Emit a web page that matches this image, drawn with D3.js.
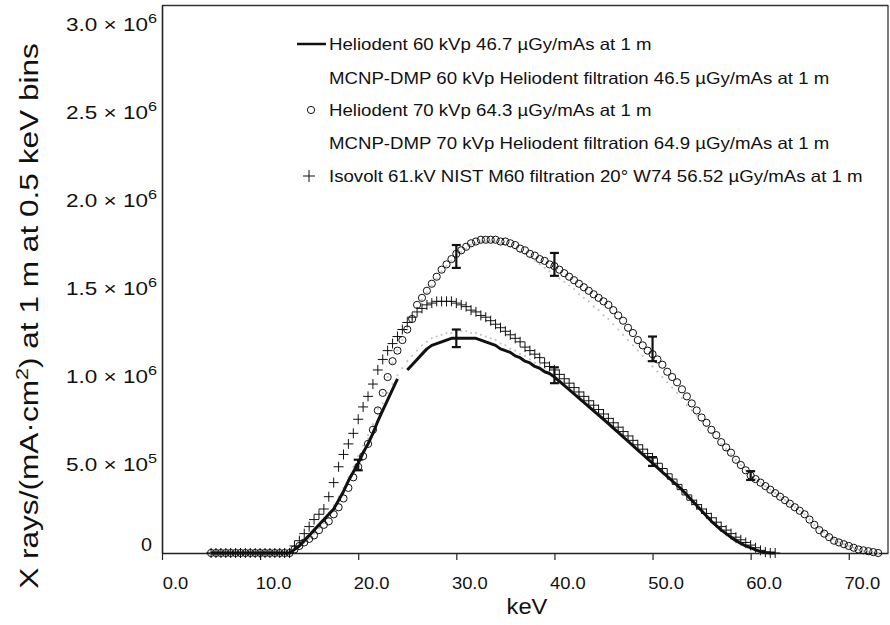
<!DOCTYPE html>
<html><head><meta charset="utf-8">
<script src="https://cdn.jsdelivr.net/npm/d3@7"></script>
<style>
body{margin:0;background:#fff;}
svg{display:block;font-family:"Liberation Sans",Arial,sans-serif;}
</style></head><body>
<svg id="chart" width="890" height="625"></svg>
<script>
// Energy bins (keV), 0.5 keV steps
const energy = [
 5,5.5,6,6.5,7,7.5,8,8.5,9,9.5,
 10,10.5,11,11.5,12,12.5,13,13.5,14,14.5,
 15,15.5,16,16.5,17,17.5,18,18.5,19,19.5,
 20,20.5,21,21.5,22,22.5,23,23.5,24,24.5,
 25,25.5,26,26.5,27,27.5,28,28.5,29,29.5,
 30,30.5,31,31.5,32,32.5,33,33.5,34,34.5,
 35,35.5,36,36.5,37,37.5,38,38.5,39,39.5,
 40,40.5,41,41.5,42,42.5,43,43.5,44,44.5,
 45,45.5,46,46.5,47,47.5,48,48.5,49,49.5,
 50,50.5,51,51.5,52,52.5,53,53.5,54,54.5,
 55,55.5,56,56.5,57,57.5,58,58.5,59,59.5,
 60,60.5,61,61.5,62,62.5,63,63.5,64,64.5,
 65,65.5,66,66.5,67,67.5,68,68.5,69,69.5,
 70,70.5,71,71.5,72,72.5,73];

// Values in units of 10^6 X rays/(mA·cm²)
const heliodent60 = [
 0,0,0,0,0,0,0,0,0,0,
 0,0,0,0,0,0,0,0.02,0.04,0.07,
 0.10,0.13,0.16,0.19,0.22,0.25,0.30,0.35,0.41,0.46,
 0.51,0.57,0.62,0.68,0.75,0.81,0.87,0.93,0.99,null,
 1.04,1.07,1.10,1.13,1.16,1.18,1.19,1.20,1.21,1.22,
 1.22,1.22,1.22,1.22,1.22,1.21,1.20,1.19,1.18,1.16,
 1.15,1.14,1.12,1.11,1.09,1.08,1.06,1.05,1.03,1.02,
 1.00,0.976,0.952,0.928,0.904,0.88,0.856,0.832,0.808,0.784,
 0.76,0.735,0.71,0.685,0.66,0.635,0.61,0.585,0.56,0.535,
 0.51,0.485,0.46,0.435,0.41,0.385,0.36,0.33,0.30,0.27,
 0.24,0.21,0.18,0.155,0.13,0.11,0.09,0.07,0.055,0.04,
 0.03,0.018,0.008,0.003,0,0,null,null,null,null,
 null,null,null,null,null,null,null,null,null,null,
 null,null,null,null,null,null,null];

const mcnp60 = [
 0,0,0,0,0,0,0,0,0,0,
 0,0,0,0,0,0,0,0.02,0.04,0.07,
 0.10,0.13,0.16,0.19,0.23,0.27,0.32,0.37,0.43,0.49,
 0.55,0.61,0.67,0.73,0.79,0.85,0.91,0.96,1.01,1.05,
 1.09,1.12,1.15,1.18,1.20,1.22,1.23,1.24,1.25,1.25,
 1.26,1.26,1.26,1.25,1.25,1.24,1.23,1.22,1.21,1.19,
 1.18,1.16,1.15,1.13,1.12,1.10,1.08,1.07,1.05,1.04,
 1.02,1.00,0.975,0.95,0.925,0.90,0.875,0.85,0.825,0.80,
 0.775,0.75,0.725,0.70,0.675,0.65,0.625,0.60,0.575,0.55,
 0.525,0.50,0.47,0.44,0.41,0.38,0.35,0.32,0.29,0.26,
 0.23,0.20,0.175,0.15,0.125,0.10,0.08,0.06,0.045,0.03,
 0.015,0.005,0,0,0,0,null,null,null,null,
 null,null,null,null,null,null,null,null,null,null,
 null,null,null,null,null,null,null];

const heliodent70 = [
 0,0,0,0,0,0,0,0,0,0,
 0,0,0,0,0,0,0,0.02,0.04,0.06,
 0.08,0.10,0.13,0.16,0.18,0.22,0.26,0.31,0.37,0.43,
 0.49,0.55,0.62,0.70,0.81,0.91,1.00,1.09,1.15,1.21,
 1.27,1.33,1.41,1.45,1.49,1.53,1.57,1.61,1.64,1.67,
 1.70,1.72,1.74,1.76,1.77,1.78,1.78,1.78,1.78,1.77,
 1.77,1.76,1.75,1.73,1.72,1.70,1.69,1.67,1.66,1.64,
 1.63,1.61,1.59,1.57,1.55,1.53,1.51,1.49,1.47,1.45,
 1.43,1.41,1.38,1.35,1.32,1.28,1.25,1.21,1.18,1.15,
 1.13,1.10,1.07,1.03,1.00,0.97,0.93,0.89,0.85,0.81,
 0.77,0.74,0.70,0.67,0.63,0.60,0.57,0.53,0.50,0.47,
 0.44,0.42,0.40,0.38,0.36,0.34,0.32,0.30,0.28,0.26,
 0.24,0.22,0.19,0.16,0.13,0.11,0.09,0.07,0.06,0.05,
 0.04,0.03,0.02,0.015,0.01,0.005,0];

const mcnp70 = [
 0,0,0,0,0,0,0,0,0,0,
 0,0,0,0,0,0,0,0.02,0.04,0.06,
 0.08,0.11,0.14,0.17,0.20,0.24,0.28,0.33,0.39,0.45,
 0.51,0.58,0.65,0.73,0.82,0.91,1.00,1.08,1.15,1.21,
 1.27,1.33,1.39,1.44,1.48,1.52,1.56,1.60,1.63,1.66,
 1.69,1.71,1.73,1.75,1.76,1.77,1.77,1.77,1.77,1.76,
 1.75,1.74,1.73,1.71,1.70,1.68,1.66,1.64,1.62,1.60,
 1.58,1.56,1.54,1.52,1.50,1.47,1.45,1.43,1.40,1.38,
 1.35,1.33,1.30,1.27,1.24,1.21,1.18,1.15,1.12,1.09,
 1.06,1.03,1.00,0.97,0.94,0.91,0.88,0.84,0.81,0.78,
 0.75,0.72,0.68,0.65,0.62,0.59,0.56,0.53,0.50,0.47,
 0.44,0.42,0.40,0.38,0.36,0.34,0.32,0.30,0.28,0.26,
 0.24,0.22,0.19,0.16,0.14,0.12,0.10,0.08,0.06,0.05,
 0.04,0.03,0.02,0.01,0.005,0,0];

const isovolt61 = [
 0,0,0,0,0,0,0,0,0,0,
 0,0,0,0,0,0,0,0.04,0.07,0.11,
 0.15,0.19,0.22,0.25,0.32,0.40,0.49,0.56,0.62,0.68,
 0.76,0.83,0.89,0.96,1.04,1.10,1.15,1.19,1.23,1.27,
 1.31,1.34,1.37,1.39,1.41,1.42,1.43,1.43,1.43,1.43,
 1.42,1.41,1.40,1.38,1.37,1.35,1.34,1.32,1.30,1.28,
 1.26,1.24,1.22,1.20,1.17,1.15,1.13,1.11,1.08,1.06,
 1.04,1.015,0.99,0.965,0.94,0.915,0.89,0.865,0.84,0.815,
 0.79,0.765,0.74,0.715,0.69,0.665,0.64,0.615,0.59,0.565,
 0.54,0.51,0.48,0.45,0.42,0.39,0.36,0.33,0.30,0.275,
 0.25,0.225,0.20,0.175,0.15,0.13,0.11,0.09,0.075,0.06,
 0.045,0.03,0.015,0.005,0,0,null,null,null,null,
 null,null,null,null,null,null,null,null,null,null,
 null,null,null,null,null,null,null];

// Error bars (units of 10^6)
const err60Energy = [20, 30, 40, 50];
const err60Value  = [0.50, 1.22, 1.01, 0.52];
const err60Half   = [0.03, 0.05, 0.045, 0.025];
const err70Energy = [30, 40, 50, 60];
const err70Value  = [1.685, 1.64, 1.16, 0.44];
const err70Half   = [0.065, 0.065, 0.07, 0.025];

// Axis ticks
const xTicks = [0, 10, 20, 30, 40, 50, 60, 70];
const yTicks = [0, 0.5, 1.0, 1.5, 2.0, 2.5, 3.0];
const yTickMantissa = ["0", "5.0", "1.0", "1.5", "2.0", "2.5", "3.0"];
const yTickExponent = ["", "5", "6", "6", "6", "6", "6"];

const legendLabels = [
 "Heliodent 60 kVp 46.7 \u00b5Gy/mAs at 1 m",
 "MCNP-DMP 60 kVp Heliodent filtration 46.5 \u00b5Gy/mAs at 1 m",
 "Heliodent 70 kVp 64.3 \u00b5Gy/mAs at 1 m",
 "MCNP-DMP 70 kVp Heliodent filtration 64.9 \u00b5Gy/mAs at 1 m",
 "Isovolt 61.kV NIST M60 filtration 20\u00b0 W74 56.52 \u00b5Gy/mAs at 1 m"
];
const legendSymbols = ["line", "none", "circle", "none", "plus"];

const svg = d3.select("#chart");
const x = d3.scaleLinear().domain([0, 74.0]).range([162, 888]);
const y = d3.scaleLinear().domain([0, 3.114]).range([553, 5]);

const ink = "#111";

// frame (top, right)
svg.append("line").attr("x1", 162).attr("x2", 888).attr("y1", 5.5).attr("y2", 5.5)
  .attr("stroke", "#333").attr("stroke-width", 1.3);
svg.append("line").attr("x1", 888).attr("x2", 888).attr("y1", 5).attr("y2", 553)
  .attr("stroke", "#333").attr("stroke-width", 1.3);

// axes
const xAxis = svg.append("g").attr("transform", "translate(0,553)")
  .call(d3.axisBottom(x).tickValues(xTicks).tickSize(7).tickSizeOuter(0).tickFormat(d => d.toFixed(1)));
xAxis.select(".domain").attr("stroke", "#222").attr("stroke-width", 1.6);
xAxis.selectAll(".tick line").attr("stroke", "#222").attr("stroke-width", 1.2);
xAxis.selectAll(".tick text").attr("font-size", 17).attr("fill", ink).attr("y", 0).attr("dy", null)
  .attr("transform", "translate(13,36) scale(1.08,1)")
  .attr("font-family", "Liberation Sans, Arial, sans-serif");

const yAxis = svg.append("g").attr("transform", "translate(162,0)")
  .call(d3.axisLeft(y).tickValues(yTicks).tickSize(0).tickSizeOuter(0).tickFormat(""));
yAxis.select(".domain").attr("stroke", "#222").attr("stroke-width", 1.6);

// y tick labels with superscripts (horizontally stretched like the scanned figure)
const yl = svg.append("g").attr("font-size", 18).attr("fill", ink).attr("text-anchor", "end");
yTicks.forEach((v, i) => {
  const hasExp = yTickExponent[i] !== "";
  const g = yl.append("g").attr("transform",
    `translate(${hasExp ? 157 : 152},${y(v) + (v === 0 ? -2 : 6)}) scale(${hasExp ? 1.25 : 1.1},1)`);
  const t = g.append("text").attr("x", 0).attr("y", 0);
  if (hasExp) {
    t.append("tspan").text(yTickMantissa[i] + " \u00d7 10");
    t.append("tspan").attr("dy", -8).attr("font-size", 13).text(yTickExponent[i]);
  } else {
    t.text(yTickMantissa[i]);
  }
});

// axis titles
svg.append("g").attr("transform", "translate(527,614) scale(1.08,1)")
  .append("text").attr("text-anchor", "middle").attr("font-size", 22).attr("fill", ink).text("keV");

const ytG = svg.append("g");
const yt = ytG.append("text").attr("text-anchor", "middle").attr("font-size", 25).attr("fill", ink);
yt.append("tspan").text("X rays/(mA\u00b7cm");
yt.append("tspan").attr("dy", -10).attr("font-size", 17).text("2");
yt.append("tspan").attr("dy", 10).text(") at 1 m at 0.5 keV bins");
const ytLen = yt.node().getComputedTextLength();
ytG.attr("transform", `translate(38,316) rotate(-90) scale(${546 / ytLen},1)`);

// data helpers
const pts = arr => energy.map((e, i) => ({e, v: arr[i]})).filter(d => d.v !== null);
const plotG = svg.append("g");

// MCNP simulated series: faint grey dots
[mcnp60, mcnp70].forEach(arr => {
  plotG.append("g").selectAll("circle").data(pts(arr)).join("circle")
    .attr("cx", d => x(d.e)).attr("cy", d => y(d.v)).attr("r", 1.1)
    .attr("fill", "#c4c4c4");
});

// Heliodent 60 kVp solid line
const line = d3.line().defined(d => d.v !== null).x(d => x(d.e)).y(d => y(d.v));
plotG.append("path").datum(energy.map((e, i) => ({e, v: heliodent60[i]})))
  .attr("d", line).attr("fill", "none").attr("stroke", ink).attr("stroke-width", 3)
  .attr("stroke-linejoin", "round");

// Isovolt pluses
plotG.append("g").selectAll("path").data(pts(isovolt61)).join("path")
  .attr("transform", d => `translate(${x(d.e)},${y(d.v)})`)
  .attr("d", "M-5,0H5M0,-5V5").attr("stroke", ink).attr("stroke-width", 1).attr("fill", "none");

// Heliodent 70 kVp circles
plotG.append("g").selectAll("circle").data(pts(heliodent70)).join("circle")
  .attr("cx", d => x(d.e)).attr("cy", d => y(d.v)).attr("r", 3.6)
  .attr("fill", "none").attr("stroke", ink).attr("stroke-width", 1);

// error bars
function errorBars(E, V, H) {
  const g = plotG.append("g").attr("stroke", ink).attr("stroke-width", 2.2);
  E.forEach((e, i) => {
    const cx = x(e), y1 = y(V[i] + H[i]), y2 = y(V[i] - H[i]);
    g.append("line").attr("x1", cx).attr("x2", cx).attr("y1", y1).attr("y2", y2);
    g.append("line").attr("x1", cx - 4.5).attr("x2", cx + 4.5).attr("y1", y1).attr("y2", y1);
    g.append("line").attr("x1", cx - 4.5).attr("x2", cx + 4.5).attr("y1", y2).attr("y2", y2);
  });
}
errorBars(err60Energy, err60Value, err60Half);
errorBars(err70Energy, err70Value, err70Half);

// legend
const legendY = [44, 78, 110, 143, 176];
const lg = svg.append("g");
legendLabels.forEach((lab, i) => {
  const cy = legendY[i];
  lg.append("g").attr("transform", `translate(329,${cy + 6}) scale(1.13,1)`)
    .append("text").attr("font-size", 16.5).attr("fill", ink).text(lab);
  const s = legendSymbols[i];
  if (s === "line") lg.append("line").attr("x1", 297).attr("x2", 326).attr("y1", cy).attr("y2", cy)
    .attr("stroke", ink).attr("stroke-width", 2.5);
  if (s === "circle") lg.append("circle").attr("cx", 311).attr("cy", cy).attr("r", 3.6)
    .attr("fill", "none").attr("stroke", ink).attr("stroke-width", 1);
  if (s === "plus") lg.append("path").attr("transform", `translate(309,${cy})`)
    .attr("d", "M-6,0H6M0,-6V6").attr("stroke", ink).attr("stroke-width", 1).attr("fill", "none");
});
</script>
</body></html>
